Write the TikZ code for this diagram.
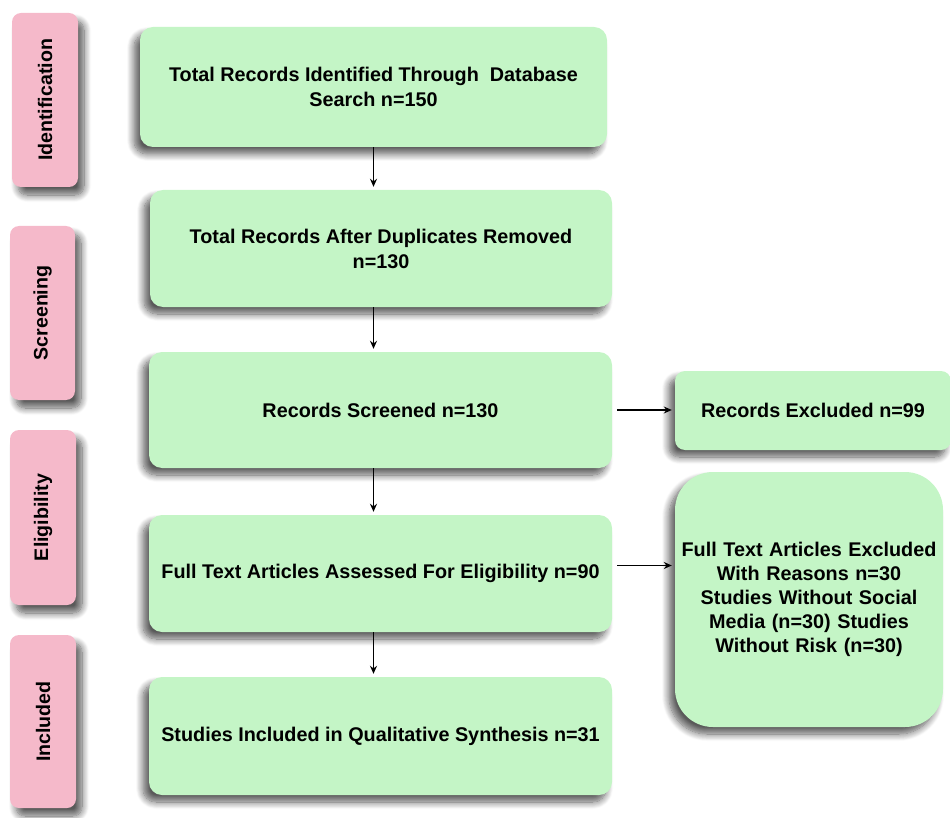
\documentclass[tikz,border=0pt]{standalone}
\usepackage{fontspec}
\setmainfont{Liberation Sans}
\usetikzlibrary{shadows.blur,arrows.meta}
\definecolor{boxgreen}{RGB}{196,245,198}
\definecolor{boxpink}{RGB}{245,185,202}
\tikzset{
  gbox/.style={draw=none, fill=boxgreen, rounded corners=13pt, align=center,
    font=\fontsize{19.8}{25}\selectfont\bfseries, inner sep=2pt,
    blur shadow={shadow xshift=-6pt, shadow yshift=-7pt, shadow blur steps=10, shadow blur radius=7pt, shadow opacity=65}},
  pbox/.style={draw=none, fill=boxpink, rounded corners=9pt, align=center,
    inner sep=0pt,
    blur shadow={shadow xshift=6pt, shadow yshift=-8pt, shadow blur steps=10, shadow blur radius=7pt, shadow opacity=65}},
  ptext/.style={rotate=90, font=\fontsize{19.6}{22}\selectfont\bfseries},
  flow/.style={-{Stealth[length=8pt,width=7pt]}, line width=1.7pt, black}
}
\begin{document}
\begin{tikzpicture}[x=1pt,y=-1pt]
\useasboundingbox (0,0) rectangle (950,818);
% phase labels
\node[pbox, minimum width=66pt, minimum height=174pt] (ident) at (45,100) {};
\node[ptext] (identt) at (ident.center) {Identification};
\node[pbox, minimum width=65pt, minimum height=174pt] (scr) at (42.5,313) {};
\node[ptext] (scrt) at (scr.center) {Screening};
\node[pbox, minimum width=66pt, minimum height=175pt] (elig) at (43,517.5) {};
\node[ptext] (eligt) at (elig.center) {Eligibility};
\node[pbox, minimum width=66pt, minimum height=173pt] (incl) at (43,721.5) {};
\node[ptext] (inclt) at (incl.center) {Included};
% main boxes
\node[gbox, minimum width=467pt, minimum height=120pt] (b1) at (373.5,87)
  {Total Records Identified Through~ Database\\Search n=150};
\node[gbox, minimum width=462pt, minimum height=117pt] (b2) at (381,248.5)
  {Total Records After Duplicates Removed\\n=130};
\node[gbox, minimum width=463pt, minimum height=116pt] (b3) at (380.5,410)
  {Records Screened n=130};
\node[gbox, minimum width=463pt, minimum height=117pt] (b4) at (380.5,573.5)
  {Full Text Articles Assessed For Eligibility n=90};
\node[gbox, minimum width=463pt, minimum height=118pt] (b5) at (380.5,736)
  {Studies Included in Qualitative Synthesis n=31};
\node[gbox, minimum width=276pt, minimum height=79pt, rounded corners=10pt] (e1) at (813,410.5)
  {Records Excluded n=99};
\node[gbox, minimum width=268pt, minimum height=255pt, rounded corners=38pt, text width=262pt, font=\fontsize{19.8}{24}\selectfont\bfseries] (e2) at (809,599.5)
  {\raisebox{0pt}{}Full Text Articles Excluded\\With Reasons n=30\\Studies Without Social\\Media (n=30) Studies\\Without Risk (n=30)};
% arrows
\draw[flow, shorten >=3pt] (b1.south) -- (b1.south |- b2.north);
\draw[flow, shorten >=3pt] (b1.south |- b2.south) -- (b1.south |- b3.north);
\draw[flow, shorten >=3pt] (b1.south |- b3.south) -- (b1.south |- b4.north);
\draw[flow, shorten >=3pt] (b1.south |- b4.south) -- (b1.south |- b5.north);
\draw[flow, shorten <=5pt, shorten >=3pt] (b3.east) -- (b3.east -| e1.west);
\draw[flow, shorten <=5pt, shorten >=3pt] (b4.east) ++(0,-8) coordinate (a4) -- (a4 -| e2.west);
\end{tikzpicture}
\end{document}
